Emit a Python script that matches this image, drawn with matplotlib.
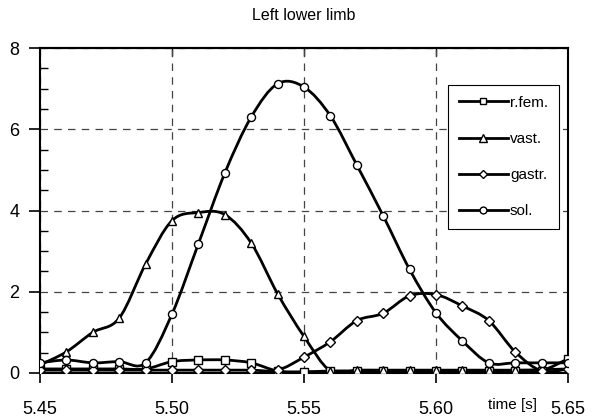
import numpy as np
import matplotlib
matplotlib.use("Agg")
import matplotlib.pyplot as plt
from matplotlib.path import Path
from matplotlib.patches import PathPatch
from matplotlib.lines import Line2D
from matplotlib.ticker import MultipleLocator

plt.rcParams['font.family'] = ['Liberation Sans', 'DejaVu Sans']

time = [5.45, 5.46, 5.47, 5.48, 5.49, 5.50, 5.51, 5.52, 5.53, 5.54, 5.55,
        5.56, 5.57, 5.58, 5.59, 5.60, 5.61, 5.62, 5.63, 5.64, 5.65]
rfem = [0.10, 0.10, 0.10, 0.10, 0.10, 0.28, 0.32, 0.32, 0.25, 0.05, 0.03,
        0.05, 0.05, 0.05, 0.05, 0.05, 0.05, 0.05, 0.05, 0.06, 0.35]
vast = [0.20, 0.52, 1.00, 1.35, 2.68, 3.75, 3.95, 3.90, 3.20, 1.95, 0.90,
        0.05, 0.07, 0.07, 0.07, 0.07, 0.07, 0.07, 0.07, 0.08, 0.10]
gastr = [0.07, 0.07, 0.07, 0.07, 0.07, 0.07, 0.07, 0.07, 0.07, 0.07, 0.39,
         0.77, 1.29, 1.47, 1.90, 1.93, 1.65, 1.29, 0.52, 0.05, 0.10]
sol = [0.25, 0.32, 0.25, 0.28, 0.25, 1.45, 3.18, 4.92, 6.30, 7.12, 7.04,
       6.33, 5.12, 3.87, 2.55, 1.48, 0.79, 0.25, 0.25, 0.25, 0.25]

series = [("r.fem.", rfem, "s"), ("vast.", vast, "^"),
          ("gastr.", gastr, "D"), ("sol.", sol, "o")]
title = "Left lower limb"
xticks = [5.45, 5.50, 5.55, 5.60, 5.65]
yticks = [0, 2, 4, 6, 8]


def smooth_path(x, y, t=1/6):
    x = np.asarray(x, float)
    y = np.asarray(y, float)
    pts = np.column_stack([x, y])
    verts = [pts[0]]
    codes = [Path.MOVETO]
    n = len(pts)
    for i in range(n - 1):
        p0 = pts[i - 1] if i > 0 else pts[i]
        p1 = pts[i]
        p2 = pts[i + 1]
        p3 = pts[i + 2] if i + 2 < n else pts[i + 1]
        c1 = p1 + (p2 - p0) * t
        c2 = p2 - (p3 - p1) * t
        verts += [c1, c2, p2]
        codes += [Path.CURVE4] * 3
    return Path(verts, codes)


fig = plt.figure(figsize=(5.95, 4.19), dpi=100)
ax = fig.add_axes([0.0672, 0.1098, 0.8874, 0.7756])

lw = 2.0
msizes = {"s": 5.2, "^": 6.2, "D": 4.8, "o": 5.8}
handles = []
for name, vals, mk in series:
    patch = PathPatch(smooth_path(time, vals), facecolor='none',
                      edgecolor='black', lw=lw, zorder=3)
    ax.add_patch(patch)
    ax.plot(time, vals, linestyle='none', marker=mk, ms=msizes[mk],
            mfc='white', mec='black', mew=1.0, zorder=4)
    handles.append(Line2D([], [], color='black', lw=lw, marker=mk,
                          ms=msizes[mk] * 0.85,
                          mfc='white', mec='black', mew=1.0, label=name))

ax.set_xlim(5.45, 5.65)
ax.set_ylim(0, 8)
ax.set_xticks(xticks)
ax.set_xticklabels([f"{v:.2f}" for v in xticks])
ax.set_yticks(yticks)
ax.set_yticklabels([str(v) for v in yticks])
ax.yaxis.set_minor_locator(MultipleLocator(0.5))
ax.tick_params(axis='y', which='major', direction='out', length=8,
               width=1.2, labelsize=13, pad=7)
ax.tick_params(axis='y', which='minor', direction='in', length=6, width=1.0)
ax.tick_params(axis='x', which='major', direction='out', length=7,
               width=1.2, labelsize=13, pad=13)

top = ax.secondary_xaxis('top')
top.set_xticks(xticks[1:-1])
top.tick_params(direction='in', length=6, width=1.0, labeltop=False)
top.spines['top'].set_linewidth(1.5)

for s in ax.spines.values():
    s.set_linewidth(1.5)

ax.grid(True, which='major', linestyle=(0, (6, 5)), color='#444444', lw=0.9)

ax.set_title(title, fontsize=11.5, pad=20)
ax.text(0.894, -0.098, "time [s]", transform=ax.transAxes, fontsize=11,
        ha='center', va='center')

leg = ax.legend(handles=handles, loc='upper left',
                bbox_to_anchor=(0.773, 0.886), fontsize=11, frameon=True,
                fancybox=False, edgecolor='black', framealpha=1,
                handlelength=3.2, labelspacing=1.45, borderpad=0.7,
                handletextpad=0.15, borderaxespad=0)
leg.get_frame().set_linewidth(0.8)

fig.savefig("out.png", dpi=100)
